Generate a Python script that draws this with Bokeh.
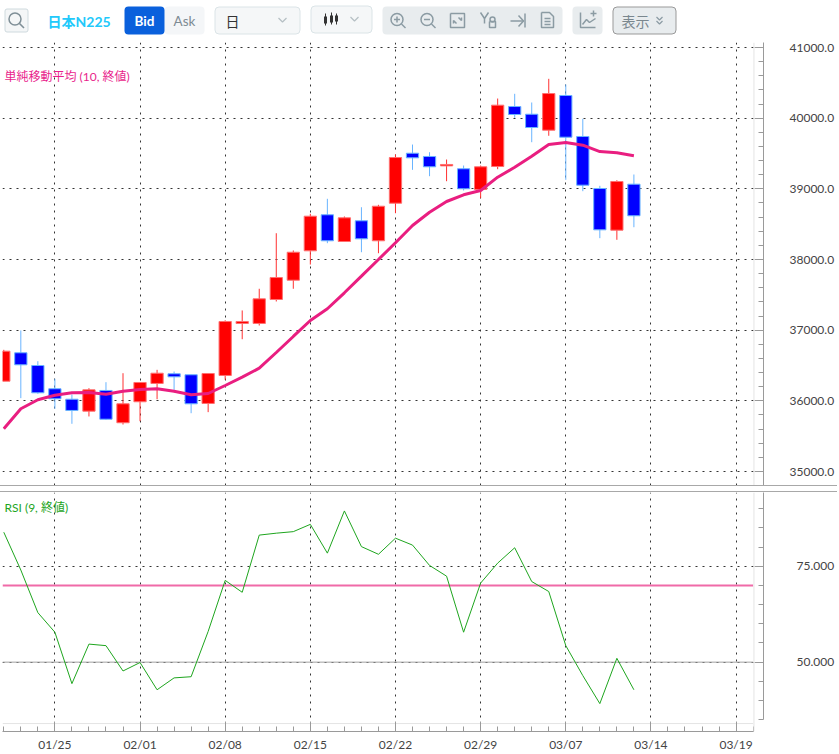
from bokeh.plotting import figure
from bokeh.layouts import column
from bokeh.models import FixedTicker, Range1d, Label, Span, NumeralTickFormatter, Div
from bokeh.core.properties import value
from bokeh.embed import file_html
from bokeh.resources import INLINE

# ---------- data ----------
opens = [36278,36680,36500,36171,36023,35854,36147,35690,35987,36246,36383,36369,35963,36359,37095,37095,37434,37707,
         38123,38633,38255,38548,38265,38797,39504,39458,39325,39284,38991,39316,40165,40056,39830,40321,39741,39005,38415,39066]
closes = [36703,36510,36114,36029,35864,36156,35740,35958,36260,36391,36340,35958,36387,37123,37123,37444,37745,38103,
          38613,38265,38590,38293,38754,39443,39439,39312,39345,39001,39312,40184,40052,39868,40349,39731,39052,38420,39104,38619]
highs = [36722,36996,36561,36312,36090,36179,36264,36391,36260,36439,36415,36369,36387,37140,37279,37586,38372,38128,
         38647,38859,38609,38740,38774,39486,39627,39518,39415,39330,39330,40278,40345,40222,40557,40476,39991,39043,39122,39203]
lows = [36278,36038,36100,35888,35675,35779,35732,35665,35712,36023,36156,35825,35840,36298,36872,37066,37406,37586,
        37929,38231,38255,38103,38089,38655,39269,39179,39108,38977,38868,39278,40005,39660,39751,39128,38967,38302,38279,38457]
sma = [35605,35888,36015,36080,36114,36118,36094,36137,36161,36171,36137,36086,36104,36217,36335,36462,36684,36911,
       37137,37303,37529,37764,38000,38237,38481,38669,38821,38916,38977,39165,39306,39462,39627,39656,39618,39528,39510,39468]
rsi = [83.85,74.0,62.9,57.8,44.4,54.7,54.3,47.7,49.9,42.8,45.9,46.2,58.0,71.3,68.2,83.1,83.6,84.0,
       85.9,78.4,89.4,80.1,78.1,82.3,80.5,75.2,72.4,57.8,70.6,75.8,79.8,71.0,68.4,54.3,46.5,39.2,51.0,42.8]
date_ticks = [3, 8, 13, 18, 23, 28, 33, 38, 43]
date_labels = ["01/25", "02/01", "02/08", "02/15", "02/22", "02/29", "03/07", "03/14", "03/19"]
price_ticks = [35000, 36000, 37000, 38000, 39000, 40000, 41000]
rsi_ticks = [50, 75]
rsi_upper = 70
rsi_mid = 50
sma_title = "単純移動平均 (10, 終値)"
rsi_title = "RSI (9, 終値)"

FONT = "Lato, 'Noto Sans CJK JP'"
GRID = "#333333"
AXIS = "#9a9a9a"
X0, X1 = -0.076, 44.61
idx = list(range(len(opens)))
minor_x = list(range(0, 45))

# ---------- toolbar ----------
tb = figure(width=839, height=35, x_range=Range1d(0, 839), y_range=Range1d(35, 0),
            output_backend="svg", toolbar_location=None, min_border=0, frame_align=False,
            x_axis_location=None, y_axis_location=None, outline_line_color=None)
tb.grid.visible = False
ICON = "#8b9ba3"

def box(x0, x1, y0, y1, fill, line=None, r=4):
    tb.quad(left=[x0], right=[x1], top=[y0], bottom=[y1], fill_color=fill,
            line_color=line, line_width=1, border_radius=r)

def txt(x, y, s, color, size, style="normal", align="left"):
    tb.text(x=[x], y=[y], text=[s], text_color=color, text_font=value(FONT), text_font_size=size,
            text_font_style=style, text_baseline="middle", text_align=align)

def lines(segs, color=ICON, w=1.5):
    tb.multi_line(xs=[s[0] for s in segs], ys=[s[1] for s in segs], line_color=color, line_width=w)

def ring(x, y, r, color=ICON, w=1.5):
    tb.scatter(x=[x], y=[y], size=2 * r, marker="circle", fill_color=None, line_color=color, line_width=w)

def chev(x, y, w=4, h=4, color="#b5bfc4"):
    lines([([x - w, x, x + w], [y, y + h, y])], color, 1.2)

box(4.5, 27.5, 8.5, 31.5, "#f4f6f7", "#cfdade", 2)
ring(14.5, 18.5, 6, "#7f8f97")
lines([([19, 23.5], [23, 27.5])], "#7f8f97", 1.6)
txt(47, 20.5, "日本N225", "#22c9fb", "14px", "bold")
box(164, 204, 6, 34, "#f4f6f8", None, 4)
box(124, 164, 6, 34, "#0a60dc", None, 4)
txt(144, 20.5, "Bid", "#ffffff", "13.5px", "bold", "center")
txt(184, 20.5, "Ask", "#7d8b93", "13.5px", "normal", "center")
box(214.5, 299.5, 6.5, 33.5, "#f5f7f8", "#dbe4e7", 4)
txt(232, 20.5, "日", "#333333", "14px", "normal", "center")
chev(282, 17.5)
box(310.5, 371.5, 5.5, 32.5, "#f5f7f8", "#dbe4e7", 4)
lines([([325, 325], [13, 25]), ([331, 331], [12, 24]), ([336, 336], [13, 24])], "#333333", 1)
lines([([325, 325], [16, 23]), ([331, 331], [15, 22]), ([336, 336], [15, 21])], "#333333", 3)
chev(354, 16.5)
box(382, 562, 6, 34, "#e8ecee", None, 4)
ring(396.5, 19, 6)
lines([([401, 405], [23.5, 27.5]), ([393.5, 399.5], [19, 19]), ([396.5, 396.5], [16, 22])])
ring(426.5, 19, 6)
lines([([431, 435], [23.5, 27.5]), ([423.5, 429.5], [19, 19])])
lines([([450, 464, 464, 450, 450], [13, 13, 27, 27, 13]), ([453, 453, 456], [23, 20, 23]), ([461, 461, 458], [17, 20, 17])])
lines([([480, 484, 488], [12, 18, 12]), ([484, 484], [18, 23])])
lines([([489, 495, 495, 489, 489], [21, 21, 27, 27, 21])], ICON, 1.5)
ring(492, 19, 2.5)
lines([([510, 523], [20.5, 20.5]), ([518, 523, 518], [15, 20.5, 26]), ([524.5, 524.5], [13, 27])])
lines([([541, 549, 553, 553, 541, 541], [12, 12, 16, 27, 27, 12]), ([544, 550], [18, 18]), ([544, 550], [21, 21]), ([544, 550], [24, 24])])
box(572, 602, 6, 34, "#e8ecee", None, 4)
lines([([580, 580, 595], [12, 27, 27]), ([582, 586, 589, 595], [24, 19, 22, 18]), ([590, 596], [13, 13]), ([593, 593], [10, 16])])
box(612.5, 675.5, 6.5, 33.5, "#e8ecee", "#999999", 4)
txt(621, 20.5, "表示", "#7a878e", "14px")
chev(659, 16.5, 3, 3, "#8b9ba3")
chev(659, 20.5, 3, 3, "#8b9ba3")

# ---------- price panel ----------
p = figure(width=839, height=450, x_range=Range1d(X0, X1), y_range=Range1d(34802, 41071),
           y_axis_location="right", output_backend="svg", toolbar_location=None, frame_align=False,
           min_border_left=2, min_border_right=76, min_border_top=7, min_border_bottom=0,
           outline_line_color=None, background_fill_color="#ffffff")
p.xaxis.visible = False
p.xaxis.ticker = FixedTicker(ticks=date_ticks)
p.xgrid.ticker = FixedTicker(ticks=date_ticks)
for g in (p.xgrid, p.ygrid):
    g.grid_line_color = GRID
    g.grid_line_dash = "2 5"
    g.grid_line_width = 1
ax = p.yaxis[0]
ax.ticker = FixedTicker(ticks=price_ticks, minor_ticks=[v for v in range(34800, 41001, 200)])
ax.formatter = NumeralTickFormatter(format="0.0")
ax.major_tick_in, ax.major_tick_out = 9, 0
ax.minor_tick_in, ax.minor_tick_out = 5, 0
ax.axis_line_color = AXIS
ax.major_tick_line_color = AXIS
ax.minor_tick_line_color = AXIS
ax.major_label_standoff = 26
ax.major_label_text_font = FONT
ax.major_label_text_font_size = "12px"
ax.major_label_text_color = "#444444"
p.add_layout(Span(location=44.05, dimension="height", line_color="#e4e4e4", line_width=1))

up = [i for i in idx if closes[i] >= opens[i]]
dn = [i for i in idx if closes[i] < opens[i]]
p.segment(x0=up, x1=up, y0=[lows[i] for i in up], y1=[highs[i] for i in up], line_color="#ff3030", line_width=1)
p.segment(x0=dn, x1=dn, y0=[lows[i] for i in dn], y1=[highs[i] for i in dn], line_color="#69b4ff", line_width=1)
p.vbar(x=up, width=0.72, bottom=[opens[i] for i in up], top=[closes[i] for i in up],
       fill_color="#ff0000", line_color="#ff7070", line_width=1)
p.vbar(x=dn, width=0.72, bottom=[closes[i] for i in dn], top=[opens[i] for i in dn],
       fill_color="#0000ff", line_color="#69b4ff", line_width=1)
p.line(idx, sma, line_color="#e91e80", line_width=3)
p.add_layout(Label(x=2, y=409, x_units="screen", y_units="screen", text=sma_title, text_color="#e91e8c",
                   text_font=FONT, text_font_size="12px", text_baseline="middle"))

# ---------- separator ----------
sep = Div(text="", width=837, height=7, margin=0,
          styles={"border-top": "1px solid #a8a8a8", "border-bottom": "1px solid #a8a8a8",
                  "box-sizing": "border-box"})

# ---------- RSI panel ----------
q = figure(width=839, height=262, x_range=Range1d(X0, X1), y_range=Range1d(31.93, 94.2),
           y_axis_location="right", output_backend="svg", toolbar_location=None, frame_align=False,
           min_border_left=2, min_border_right=76, min_border_top=0, min_border_bottom=21,
           outline_line_color=None, background_fill_color="#ffffff")
for g in (q.xgrid, q.ygrid):
    g.grid_line_color = GRID
    g.grid_line_dash = "2 5"
    g.grid_line_width = 1
q.ygrid.ticker = FixedTicker(ticks=rsi_ticks)
q.xgrid.ticker = FixedTicker(ticks=date_ticks)
ay = q.yaxis[0]
ay.ticker = FixedTicker(ticks=rsi_ticks, minor_ticks=list(range(35, 95, 5)))
ay.bounds = (35, 94.2)
ay.formatter = NumeralTickFormatter(format="0.000")
ay.major_tick_in, ay.major_tick_out = 9, 0
ay.minor_tick_in, ay.minor_tick_out = 5, 0
ay.axis_line_color = AXIS
ay.major_tick_line_color = AXIS
ay.minor_tick_line_color = AXIS
ay.major_label_standoff = 33
ay.major_label_text_font = FONT
ay.major_label_text_font_size = "12px"
ay.major_label_text_color = "#444444"
ax2 = q.xaxis[0]
ax2.ticker = FixedTicker(ticks=date_ticks, minor_ticks=minor_x)
ax2.major_label_overrides = dict(zip(date_ticks, date_labels))
ax2.bounds = (X0, 44)
ax2.major_tick_in, ax2.major_tick_out = 10, 0
ax2.minor_tick_in, ax2.minor_tick_out = 5, 0
ax2.axis_line_color = AXIS
ax2.major_tick_line_color = AXIS
ax2.minor_tick_line_color = AXIS
ax2.major_label_standoff = 5
ax2.major_label_text_font = FONT
ax2.major_label_text_font_size = "12px"
ax2.major_label_text_color = "#444444"
q.add_layout(Span(location=44.05, dimension="height", line_color="#e4e4e4", line_width=1))
q.segment(x0=[X0], x1=[44], y0=[34], y1=[34], line_color="#e4e4e4", line_width=1)
q.segment(x0=[X0], x1=[44], y0=[rsi_mid], y1=[rsi_mid], line_color="#a0a0a0", line_width=1)
q.segment(x0=[X0], x1=[44], y0=[rsi_upper], y1=[rsi_upper], line_color="#f06aa8", line_width=2)
q.line(idx, rsi, line_color="#1ea51e", line_width=1)
q.add_layout(Label(x=2, y=224, x_units="screen", y_units="screen", text=rsi_title, text_color="#1ea51e",
                   text_font=FONT, text_font_size="12px", text_baseline="middle"))

page = column(tb, p, sep, q, spacing=0)
open("out.html", "w").write(file_html(page, INLINE))
